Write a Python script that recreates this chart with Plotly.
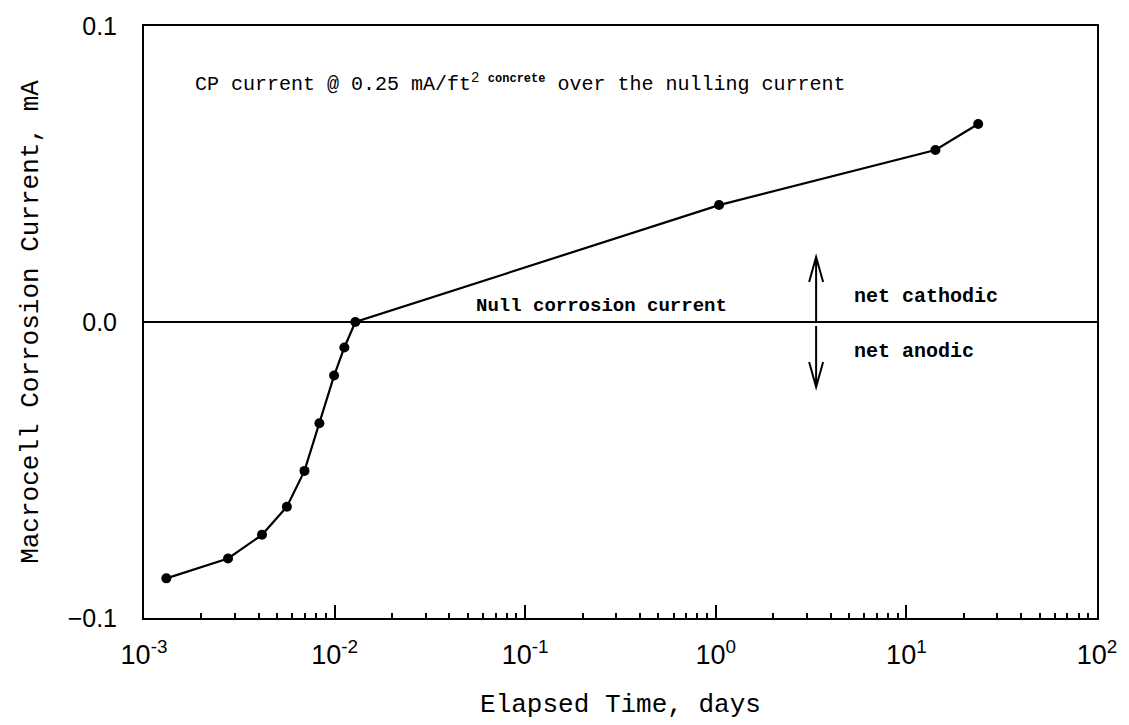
import plotly.graph_objects as go

# Data
time_days = [0.00131, 0.00276, 0.00416, 0.00562, 0.00695, 0.00832, 0.00994,
             0.01125, 0.01285, 1.04, 14.2, 23.8]
current_ma = [-0.0866, -0.0799, -0.0719, -0.0624, -0.0503, -0.0342, -0.0181,
              -0.0086, 0.0, 0.0395, 0.0581, 0.0669]

x_range_log = [-3, 2]
x_tick_vals = [1e-3, 1e-2, 1e-1, 1e0, 1e1, 1e2]
x_tick_text = ["10<sup>-3</sup>", "10<sup>-2</sup>", "10<sup>-1</sup>",
               "10<sup>0</sup>", "10<sup>1</sup>", "10<sup>2</sup>"]
y_range = [-0.1, 0.1]
y_ticks = [-0.1, 0.0, 0.1]

x_title = "Elapsed Time, days"
y_title = "Macrocell Corrosion Current, mA"
note_cp = ("CP current @ 0.25 mA/ft<sup>2 <span style='font-size:12px'><b>concrete</b></span></sup>"
           " over the nulling current")
note_null = "<b>Null corrosion current</b>"
note_cath = "<b>net cathodic</b>"
note_anod = "<b>net anodic</b>"

MONO = "Liberation Mono"
SANS = "Liberation Sans"

fig = go.Figure()
fig.add_trace(go.Scatter(
    x=time_days, y=current_ma, mode="lines+markers",
    line=dict(color="black", width=2.2),
    marker=dict(color="black", size=10),
    showlegend=False, hoverinfo="skip",
))

arrow_x = 3.36  # data position (days) of the arrows
fig.add_shape(type="path", xref="x", yref="y", xsizemode="pixel", ysizemode="pixel",
              xanchor=arrow_x, yanchor=0,
              path="M0,0 L0,65 M-7,40 L0,65 L7,40",
              line=dict(color="black", width=2))
fig.add_shape(type="path", xref="x", yref="y", xsizemode="pixel", ysizemode="pixel",
              xanchor=arrow_x, yanchor=0,
              path="M0,-4 L0,-65 M-7,-40 L0,-65 L7,-40",
              line=dict(color="black", width=2))

fig.add_annotation(x=-2.741, y=0.0808, xref="x", yref="y", text=note_cp,
                   showarrow=False, xanchor="left", yanchor="middle",
                   font=dict(family=MONO, size=20, color="black"))
fig.add_annotation(x=-0.600, y=0.0055, xref="x", yref="y", text=note_null,
                   showarrow=False, xanchor="center", yanchor="middle",
                   font=dict(family=MONO, size=19, color="black"))
fig.add_annotation(x=0.7147, y=0.0085, xref="x", yref="y", text=note_cath,
                   showarrow=False, xanchor="left", yanchor="middle",
                   font=dict(family=MONO, size=20, color="black"))
fig.add_annotation(x=0.7147, y=-0.0098, xref="x", yref="y", text=note_anod,
                   showarrow=False, xanchor="left", yanchor="middle",
                   font=dict(family=MONO, size=20, color="black"))

fig.update_layout(
    width=1129, height=725,
    margin=dict(l=144, r=30, t=20, b=107),
    paper_bgcolor="white", plot_bgcolor="white",
    showlegend=False,
)
fig.update_xaxes(
    type="log", range=x_range_log, tickvals=x_tick_vals, ticktext=x_tick_text,
    showgrid=False, zeroline=False,
    showline=True, linecolor="black", linewidth=2, mirror=True,
    ticks="inside", ticklen=13, tickwidth=1.5, tickcolor="black",
    minor=dict(ticks="inside", ticklen=5, tickwidth=1.5, tickcolor="black",
               dtick="D1", showgrid=False),
    tickfont=dict(family=SANS, size=27, color="black"),
    ticklabelstandoff=12,
    title=dict(text=x_title, font=dict(family=MONO, size=26, color="black"), standoff=24),
)
fig.update_yaxes(
    range=y_range, tickvals=y_ticks, tickformat=".1f",
    showgrid=False, zeroline=True, zerolinecolor="black", zerolinewidth=2,
    showline=True, linecolor="black", linewidth=2, mirror=True,
    ticks="",
    tickfont=dict(family=SANS, size=25, color="black"),
    ticklabelstandoff=20,
    title=dict(text=y_title, font=dict(family=MONO, size=26, color="black"), standoff=22),
)

fig.write_html("out.html")
